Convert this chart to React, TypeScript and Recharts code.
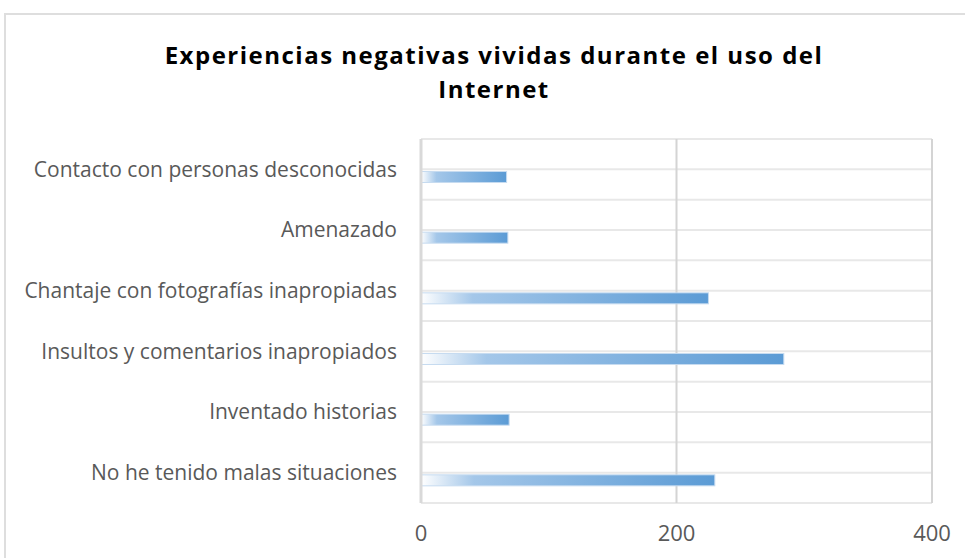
import React from 'react';
import { BarChart, Bar, XAxis, YAxis, CartesianGrid } from 'recharts';

const categories = [
  'Contacto con personas desconocidas',
  'Amenazado',
  'Chantaje con fotografías inapropiadas',
  'Insultos y comentarios inapropiados',
  'Inventado historias',
  'No he tenido malas situaciones',
];
const values = [67, 68, 225, 284, 69, 230];
const xTicks = [0, 200, 400];

const data = categories.map((name, i) => ({ name, value: values[i] }));

const FONT = '"Open Sans", sans-serif';
const BAR = 11;

// bar sits in the lower half of its band, just under the centre line
const ShiftedBar: React.FC<any> = ({ x, y, width, height }) => {
  if (!width || width <= 0) return null;
  const top = y + height / 2 + 2;
  return (
    <rect x={x} y={top} width={width} height={BAR} fill="url(#barGrad)" stroke="#c6dbf0" strokeWidth={1} />
  );
};

// gridlines on band edges and band centres
const halfBandLines = ({ offset }: any) => {
  const n = categories.length * 2;
  const out: number[] = [];
  for (let i = 0; i <= n; i++) out.push(offset.top + (offset.height * i) / n);
  return out;
};

const App: React.FC = () => {
  return (
    <div style={{ position: 'fixed', left: 0, top: 0, width: 965, height: 558, overflow: 'hidden', background: '#fff' }}>
      <div
        style={{
          position: 'absolute',
          left: 4,
          top: 13,
          width: 1000,
          height: 600,
          border: '2px solid #dedede',
          boxSizing: 'border-box',
        }}
      />
      <div
        style={{
          position: 'absolute',
          left: 0,
          top: 38,
          width: 988,
          textAlign: 'center',
          fontFamily: FONT,
          fontWeight: 700,
          fontSize: 24,
          letterSpacing: 1.5,
          lineHeight: '34px',
          color: '#000',
        }}
      >
        Experiencias negativas vividas durante el uso del
        <br />
        Internet
      </div>
      <div style={{ position: 'absolute', left: 0, top: 0 }}>
        <BarChart
          width={965}
          height={558}
          data={data}
          layout="vertical"
          margin={{ top: 139, right: 33, bottom: 25, left: 21 }}
        >
          <defs>
            <linearGradient id="barGrad" x1="0" y1="0" x2="1" y2="0">
              <stop offset="0%" stopColor="#ffffff" />
              <stop offset="18%" stopColor="#a4c7e9" />
              <stop offset="100%" stopColor="#5b9bd5" />
            </linearGradient>
          </defs>
          <CartesianGrid
            horizontalCoordinatesGenerator={halfBandLines}
            verticalPoints={[]}
            vertical={false}
            stroke="#e8e8e8"
            strokeWidth={2}
          />
          <CartesianGrid horizontal={false} stroke="#d4d4d4" strokeWidth={2} />
          <XAxis
            type="number"
            domain={[0, 400]}
            ticks={xTicks}
            axisLine={false}
            tickLine={false}
            tickMargin={16}
            tick={{ fill: '#595959', fontSize: 22, fontFamily: FONT }}
          />
          <YAxis
            type="category"
            dataKey="name"
            width={400}
            axisLine={{ stroke: '#d9d9d9', strokeWidth: 3 }}
            tickLine={false}
            tickMargin={18}
            tick={{ fill: '#595959', fontSize: 21, fontFamily: FONT }}
            interval={0}
          />
          <Bar dataKey="value" barSize={BAR} shape={<ShiftedBar />} isAnimationActive={false} />
        </BarChart>
      </div>
    </div>
  );
};

export default App;
